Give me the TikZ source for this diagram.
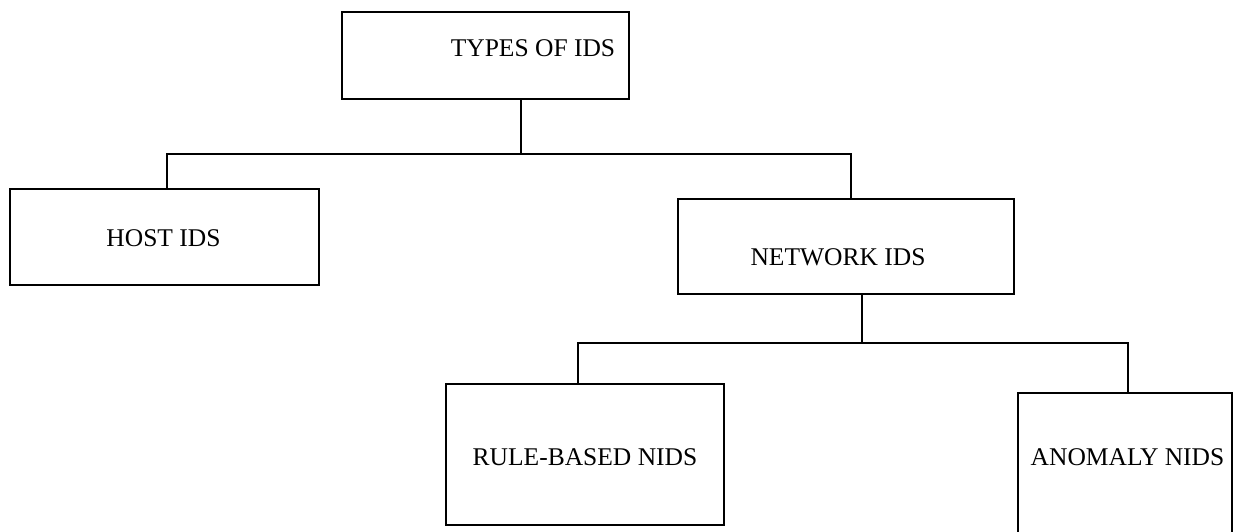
\documentclass[tikz,border=0pt]{standalone}
\usepackage{fontspec}
\setmainfont{Liberation Serif}
\begin{document}
\begin{tikzpicture}[x=1pt,y=1pt,
  box/.style={draw, line width=1.2pt, rectangle, inner sep=0pt},
  lbl/.style={font=\fontsize{25.5}{30}\selectfont, inner sep=0pt},
  wire/.style={line width=1.2pt}]
\useasboundingbox (0,0) rectangle (1239,-531);
\clip (0,0) rectangle (1239,-531);

% boxes
\node[box, minimum width=287pt, minimum height=87pt,
      label={[lbl,xshift=47.5pt,yshift=7pt]center:TYPES OF IDS}] (top) at (485.5,-55.5) {};
\node[box, minimum width=309pt, minimum height=96pt,
      label={[lbl,xshift=-1pt,yshift=-1pt]center:HOST IDS}] (host) at (164.5,-237) {};
\node[box, minimum width=336pt, minimum height=95pt,
      label={[lbl,xshift=-8pt,yshift=-10.5pt]center:NETWORK IDS}] (net) at (846,-246.5) {};
\node[box, minimum width=278pt, minimum height=141pt,
      label={[lbl,yshift=-2.5pt]center:RULE-BASED NIDS}] (rule) at (585,-454.5) {};
\node[box, minimum width=214pt, minimum height=167pt,
      label={[lbl,xshift=2.5pt,yshift=19pt]center:ANOMALY NIDS}] (anom) at (1125,-476.5) {};

% connectors
\coordinate (b1) at (521,-154);
\coordinate (b2) at (862,-343);
\draw[wire] (top.south -| b1) -- (b1);
\draw[wire] ([xshift=2.5pt]host.north) |- (b1) -| ([xshift=5pt]net.north);
\draw[wire] ([xshift=16pt]net.south) -- (b2);
\draw[wire] ([xshift=-7pt]rule.north) |- (b2) -| ([xshift=3pt]anom.north);
\end{tikzpicture}
\end{document}
